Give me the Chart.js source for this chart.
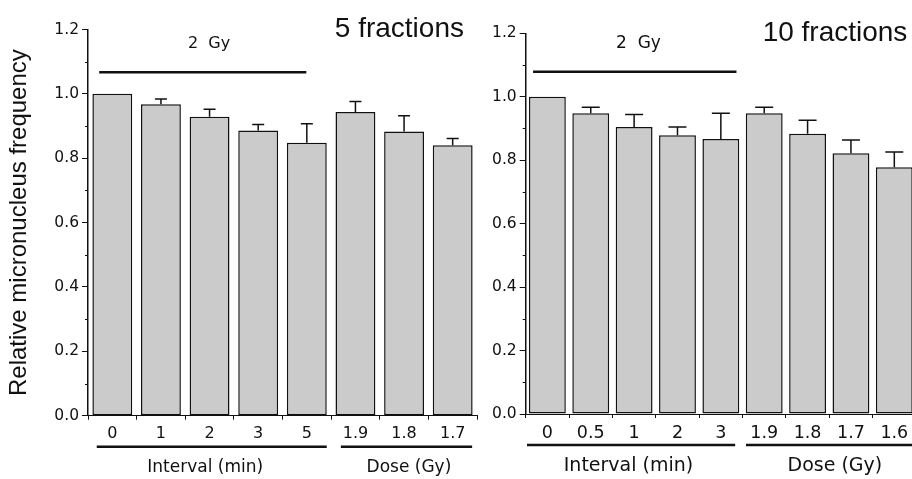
<!DOCTYPE html>
<html>
<head>
<meta charset="utf-8">
<script src="https://cdn.jsdelivr.net/npm/chart.js@4/dist/chart.umd.min.js"></script>
<style>
html, body { margin:0; padding:0; background:#fff; overflow:hidden; width:912px; height:479px; }
#left { position:absolute; left:0; top:0; width:480px; height:479px; }
#right { position:absolute; left:480px; top:0; width:440px; height:479px; }
</style>
</head>
<body>
<div id="left"><canvas id="chart5"></canvas></div>
<div id="right"><canvas id="chart10"></canvas></div>
<script>
// 5 fractions panel
var labels5 = ['0', '1', '2', '3', '5', '1.9', '1.8', '1.7'];
var freq5 = [1.0, 0.968, 0.929, 0.886, 0.848, 0.944, 0.883, 0.840];
var err5 = [0, 0.016, 0.023, 0.019, 0.059, 0.032, 0.049, 0.021];

// 10 fractions panel
var labels10 = ['0', '0.5', '1', '2', '3', '1.9', '1.8', '1.7', '1.6'];
var freq10 = [1.0, 0.948, 0.905, 0.879, 0.867, 0.948, 0.883, 0.822, 0.778];
var err10 = [0, 0.019, 0.039, 0.026, 0.081, 0.019, 0.043, 0.042, 0.048];

var yMin = 0, yMax = 1.2, yStep = 0.2, yMinorStep = 0.1;
var yTitle = 'Relative micronucleus frequency';

var ink = '#111';
var barFill = '#cbcbcb';

// error bars, minor y ticks, the "2 Gy" bracket, group underlines, heading
var figureMarks = {
    id: 'figureMarks',
    afterDatasetsDraw: function(chart, args, o) {
        var ctx = chart.ctx;
        var x = chart.scales.x, y = chart.scales.y;
        var meta = chart.getDatasetMeta(0);
        var vals = chart.data.datasets[0].data;
        var area = chart.chartArea;
        ctx.save();
        ctx.strokeStyle = ink;
        ctx.fillStyle = ink;

        // error bars (upper only)
        ctx.lineWidth = 1.5;
        meta.data.forEach(function(bar, i) {
            if (!o.err[i]) return;
            var top = y.getPixelForValue(vals[i] + o.err[i]);
            ctx.beginPath();
            ctx.moveTo(bar.x, bar.y);
            ctx.lineTo(bar.x, top);
            ctx.moveTo(bar.x - o.cap / 2, top);
            ctx.lineTo(bar.x + o.cap / 2, top);
            ctx.stroke();
        });

        // minor ticks on y axis
        ctx.lineWidth = 1;
        for (var v = yMin + yMinorStep; v < yMax; v += yStep) {
            var py = Math.round(y.getPixelForValue(v)) + 0.5;
            ctx.beginPath();
            ctx.moveTo(area.left - 3, py);
            ctx.lineTo(area.left, py);
            ctx.stroke();
        }

        // bracket over the 2 Gy bars
        var ly = y.getPixelForValue(o.top.at);
        ctx.lineWidth = 2.5;
        ctx.beginPath();
        ctx.moveTo(x.getPixelForValue(o.top.from), ly);
        ctx.lineTo(x.getPixelForValue(o.top.to), ly);
        ctx.stroke();
        ctx.font = o.top.size + 'px "DejaVu Sans"';
        ctx.textAlign = 'center';
        ctx.textBaseline = 'middle';
        ctx.fillText(o.top.label, x.getPixelForValue(o.top.labelAt), ly - 28);

        // groups under the axis
        var gy = area.bottom + 31;
        o.groups.forEach(function(g) {
            ctx.lineWidth = 2.5;
            ctx.beginPath();
            ctx.moveTo(x.getPixelForValue(g.from), gy);
            ctx.lineTo(x.getPixelForValue(g.to), gy);
            ctx.stroke();
            ctx.font = g.size + 'px "DejaVu Sans"';
            ctx.fillText(g.label, x.getPixelForValue(g.labelAt), gy + 21);
        });

        // panel heading
        ctx.font = '28px "Liberation Sans"';
        ctx.textAlign = 'center';
        ctx.textBaseline = 'alphabetic';
        ctx.fillText(o.heading, area.right - o.headingRight, area.top + 7.8);
        ctx.restore();
    }
};

function makeChart(id, labels, freq, err, opts) {
    return new Chart(document.getElementById(id), {
        type: 'bar',
        data: {
            labels: labels,
            datasets: [{
                data: freq,
                backgroundColor: barFill,
                borderColor: ink,
                borderWidth: 1.5,
                borderSkipped: false,
                barPercentage: opts.barPct,
                categoryPercentage: 1.0
            }]
        },
        options: {
            responsive: true,
            maintainAspectRatio: false,
            animation: false,
            layout: { padding: { top: opts.padTop, right: opts.padRight, left: 0, bottom: 0 } },
            plugins: {
                legend: { display: false },
                tooltip: { enabled: false },
                figureMarks: {
                    err: err,
                    cap: opts.cap,
                    top: opts.top,
                    groups: opts.groups,
                    heading: opts.heading,
                    headingRight: opts.headingRight
                }
            },
            scales: {
                x: {
                    offset: true,
                    grid: { offset: true, drawOnChartArea: false, tickLength: 4, color: ink, lineWidth: 1 },
                    border: { display: true, color: ink, width: 1 },
                    ticks: { color: ink, padding: 5, maxRotation: 0, autoSkip: false,
                             font: { family: 'DejaVu Sans', size: opts.xTickSize } },
                    afterFit: function(s) { s.height = opts.xHeight; }
                },
                y: {
                    min: yMin, max: yMax,
                    grid: { drawOnChartArea: false, tickLength: 6, color: ink, lineWidth: 1 },
                    border: { display: true, color: ink, width: 1.5 },
                    ticks: { stepSize: yStep, color: ink, padding: 3,
                             font: { family: 'DejaVu Sans', size: 15.5 },
                             callback: function(v) { return v.toFixed(1); } },
                    title: { display: opts.showTitle, text: yTitle, color: ink,
                             padding: { top: 4.5, bottom: 0 },
                             font: { family: 'Liberation Sans', size: 24 } },
                    afterFit: function(s) { s.width = opts.yWidth; }
                }
            }
        },
        plugins: [figureMarks]
    });
}

makeChart('chart5', labels5, freq5, err5, {
    barPct: 0.82, padTop: 29.5, padRight: 3, xHeight: 63.3, yWidth: 88, xTickSize: 16,
    showTitle: true, cap: 12,
    top: { from: -0.27, to: 3.99, at: 1.067, label: '2  Gy', labelAt: 1.99, size: 16 },
    groups: [
        { from: -0.32, to: 4.41, label: 'Interval (min)', labelAt: 1.91, size: 17 },
        { from: 4.70, to: 7.40, label: 'Dose (Gy)', labelAt: 6.1, size: 17 }
    ],
    heading: '5 fractions', headingRight: 77.6
});

makeChart('chart10', labels10, freq10, err10, {
    barPct: 0.85, padTop: 33.3, padRight: 4, xHeight: 65, yWidth: 45.7, xTickSize: 17.5,
    showTitle: false, cap: 18,
    top: { from: -0.33, to: 4.36, at: 1.079, label: '2  Gy', labelAt: 2.1, size: 17 },
    groups: [
        { from: -0.47, to: 4.33, label: 'Interval (min)', labelAt: 1.87, size: 19 },
        { from: 4.58, to: 8.6, label: 'Dose (Gy)', labelAt: 6.63, size: 19 }
    ],
    heading: '10 fractions', headingRight: 81
});
</script>
</body>
</html>
